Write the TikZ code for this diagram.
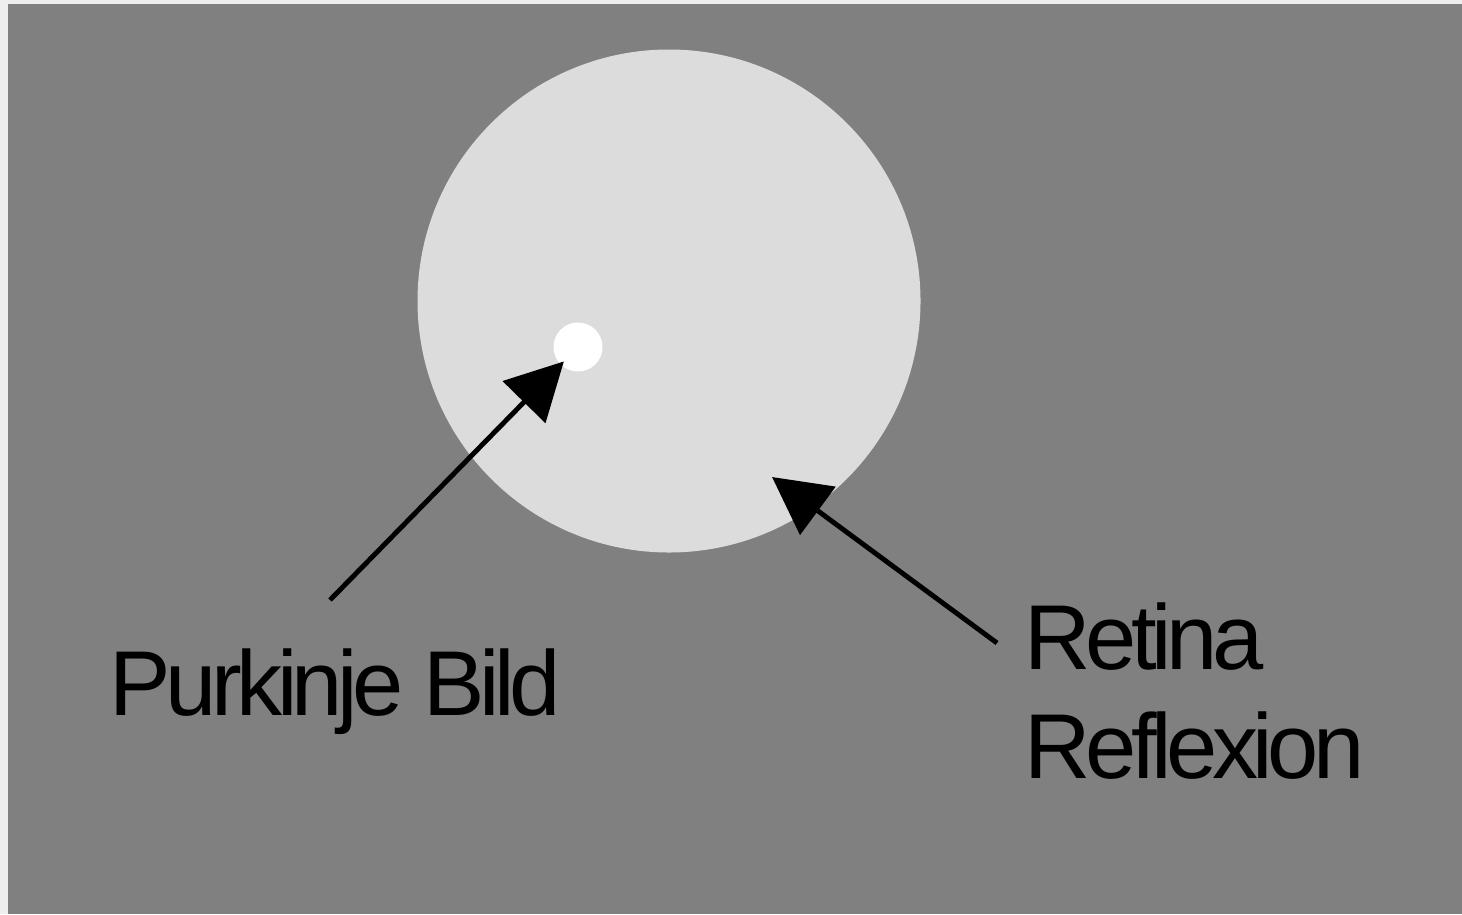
\documentclass[tikz,border=0pt]{standalone}
\usepackage{fontspec}
\newfontfamily\labelfont[LetterSpace=-6]{Liberation Sans}
\usetikzlibrary{arrows.meta,positioning}
\definecolor{fieldgray}{RGB}{128,128,128}
\definecolor{retinagray}{RGB}{220,220,220}
\definecolor{edgewhite}{RGB}{238,238,238}

\begin{document}
\begin{tikzpicture}[
  disc/.style={circle, fill=#1, inner sep=0pt},
  label/.style={inner sep=0pt, anchor=base west, align=left, text=black, font=\labelfont\fontsize{26.2pt}{30.8pt}\selectfont},
  pointer/.style={line width=1.4pt, -{Triangle[length=0.57cm, width=0.59cm]}}
]
  \fill[edgewhite] (0,0) rectangle (14.62,9.14);
  \fill[fieldgray] (0.08,0) rectangle (14.62,9.10);
  \useasboundingbox (0,0) rectangle (14.62,9.14);

  \node[disc=retinagray, minimum size=5.03cm] (pupil) at (6.69,6.13) {};
  \node[disc=white, minimum size=0.49cm] (reflex) at (5.78,5.67) {};

  \node[label] (purkinje) at (1.09,1.99) {Purkinje Bild};
  \node[label] (retina) at (10.24,1.36) {Retina\\Reflexion};

  \coordinate (ptail) at (3.30,3.14);
  \coordinate (rtail) at (9.97,2.71);
  \coordinate (rtip) at (7.72,4.37);

  \draw[pointer, shorten >=-0.05cm] (ptail) -- (reflex);
  \draw[pointer] (rtail) -- (rtip);
\end{tikzpicture}
\end{document}
